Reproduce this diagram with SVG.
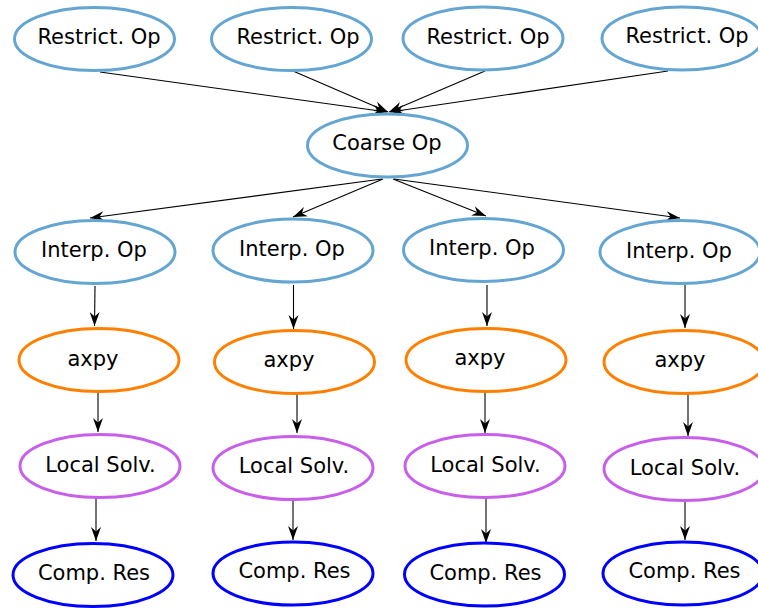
<svg xmlns="http://www.w3.org/2000/svg" width="758" height="608" viewBox="0 0 758 608">
<style>
  .n ellipse { fill: #ffffff; stroke-width: 3; }
  .op ellipse { stroke: #64a5d1; }
  .ax ellipse { stroke: #ff8000; }
  .ls ellipse { stroke: #c85fea; }
  .cr ellipse { stroke: #0000ff; }
  .n text { font-family: "DejaVu Sans", "Liberation Sans", sans-serif; font-size: 21px; fill: #000000; text-anchor: middle; }
  #edges line { stroke: #000000; stroke-width: 1.1; marker-end: url(#vee); }
</style>
<defs>
  <marker id="vee" viewBox="-15 -6 16 12" refX="0" refY="0" markerWidth="16" markerHeight="12" markerUnits="userSpaceOnUse" orient="auto">
    <path d="M0,0 L-14,-5 L-9.5,0 L-14,5 Z" fill="#000000"/>
  </marker>
</defs>
<rect width="758" height="608" fill="#ffffff"/>
<g id="edges">
  <line x1="100" y1="72" x2="387" y2="112"/>
  <line x1="293" y1="71" x2="388" y2="112"/>
  <line x1="485" y1="71" x2="389" y2="112"/>
  <line x1="668" y1="71" x2="390" y2="112"/>
  <line x1="382" y1="179" x2="90" y2="218"/>
  <line x1="383" y1="179" x2="293" y2="217"/>
  <line x1="393" y1="179" x2="486" y2="216"/>
  <line x1="394" y1="179" x2="680" y2="218"/>
  <line x1="95" y1="286" x2="94.5" y2="326"/>
  <line x1="293.5" y1="285" x2="293.5" y2="329"/>
  <line x1="487" y1="285" x2="487" y2="326"/>
  <line x1="685" y1="285" x2="685" y2="328"/>
  <line x1="98" y1="392" x2="98" y2="432"/>
  <line x1="297" y1="392" x2="297" y2="433"/>
  <line x1="485" y1="392" x2="485" y2="433"/>
  <line x1="688" y1="394" x2="688" y2="436"/>
  <line x1="96" y1="498" x2="96" y2="541"/>
  <line x1="293" y1="499" x2="293" y2="540"/>
  <line x1="486" y1="498" x2="486" y2="543"/>
  <line x1="685" y1="502" x2="685" y2="540"/>
</g>
<g id="restrict1" class="n op"><ellipse cx="94.5" cy="39" rx="80" ry="31.5"/><text x="99" y="44">Restrict. Op</text></g>
<g id="restrict2" class="n op"><ellipse cx="291.5" cy="39" rx="80" ry="31.5"/><text x="298" y="44">Restrict. Op</text></g>
<g id="restrict3" class="n op"><ellipse cx="483" cy="38.5" rx="80" ry="31.5"/><text x="488" y="44">Restrict. Op</text></g>
<g id="restrict4" class="n op"><ellipse cx="682" cy="38.5" rx="80" ry="31.5"/><text x="687" y="43">Restrict. Op</text></g>
<g id="coarse" class="n op"><ellipse cx="387.5" cy="145.5" rx="80" ry="31.5"/><text x="387" y="150">Coarse Op</text></g>
<g id="interp1" class="n op"><ellipse cx="95" cy="252" rx="80" ry="31.5"/><text x="94" y="257">Interp. Op</text></g>
<g id="interp2" class="n op"><ellipse cx="293" cy="250.5" rx="80" ry="31.5"/><text x="292" y="256">Interp. Op</text></g>
<g id="interp3" class="n op"><ellipse cx="483.5" cy="250" rx="80" ry="31.5"/><text x="482" y="255">Interp. Op</text></g>
<g id="interp4" class="n op"><ellipse cx="680" cy="252" rx="80" ry="31.5"/><text x="679" y="258">Interp. Op</text></g>
<g id="axpy1" class="n ax"><ellipse cx="99" cy="360" rx="80" ry="31.5"/><text x="93" y="366">axpy</text></g>
<g id="axpy2" class="n ax"><ellipse cx="294.5" cy="362" rx="80" ry="31.5"/><text x="289" y="367">axpy</text></g>
<g id="axpy3" class="n ax"><ellipse cx="486" cy="360" rx="80" ry="31.5"/><text x="480" y="365">axpy</text></g>
<g id="axpy4" class="n ax"><ellipse cx="684" cy="362" rx="80" ry="31.5"/><text x="680" y="367">axpy</text></g>
<g id="solv1" class="n ls"><ellipse cx="100" cy="466" rx="80" ry="31.5"/><text x="100.5" y="472">Local Solv.</text></g>
<g id="solv2" class="n ls"><ellipse cx="293" cy="468" rx="80" ry="31.5"/><text x="294" y="473">Local Solv.</text></g>
<g id="solv3" class="n ls"><ellipse cx="485" cy="466" rx="80" ry="31.5"/><text x="485.5" y="472">Local Solv.</text></g>
<g id="solv4" class="n ls"><ellipse cx="684" cy="469" rx="80" ry="31.5"/><text x="685" y="475">Local Solv.</text></g>
<g id="res1" class="n cr"><ellipse cx="93" cy="575" rx="80" ry="31.5"/><text x="94" y="580">Comp. Res</text></g>
<g id="res2" class="n cr"><ellipse cx="293" cy="573.5" rx="80" ry="31.5"/><text x="294.5" y="578">Comp. Res</text></g>
<g id="res3" class="n cr"><ellipse cx="484.5" cy="574.5" rx="80" ry="31.5"/><text x="485.5" y="580">Comp. Res</text></g>
<g id="res4" class="n cr"><ellipse cx="683" cy="573.5" rx="80" ry="31.5"/><text x="684.5" y="578">Comp. Res</text></g>
</svg>
